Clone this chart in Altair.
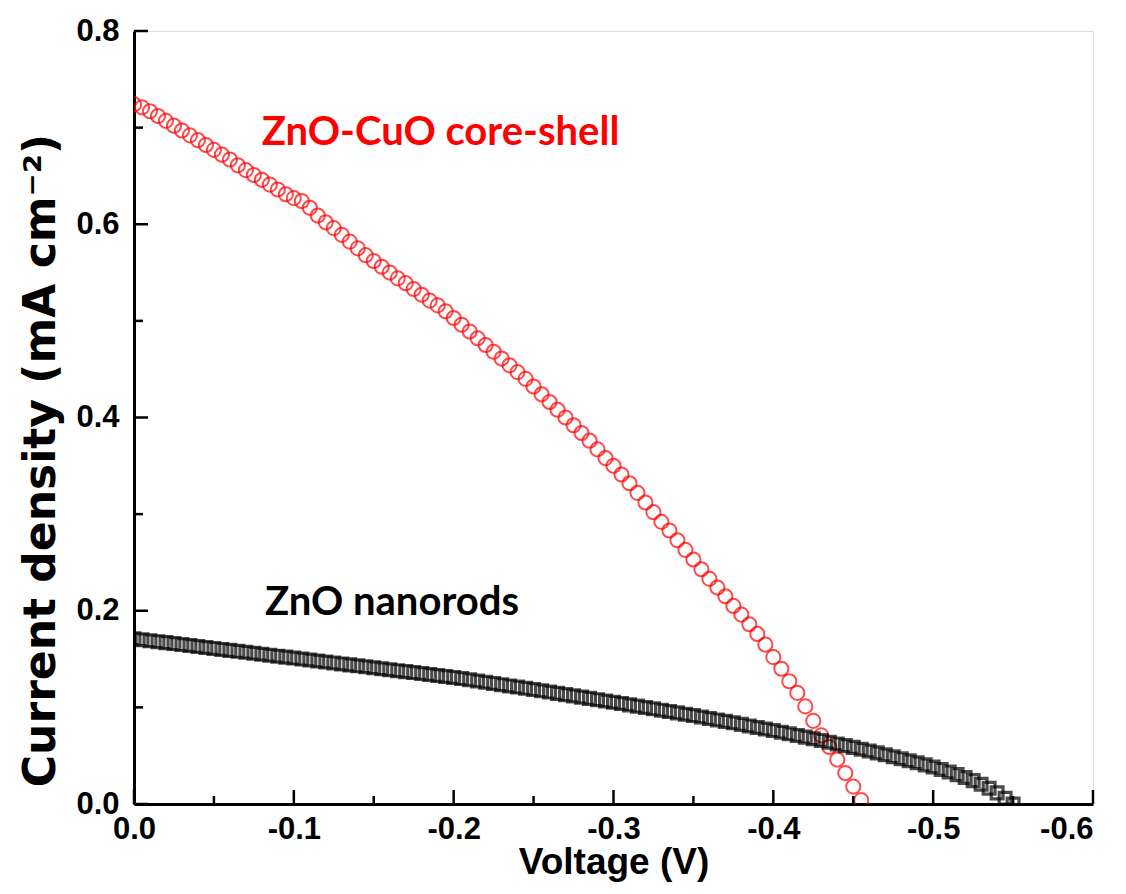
import altair as alt
import pandas as pd

# ---------------- data ----------------
red_v = [0.000, -0.005, -0.010, -0.015, -0.020, -0.025, -0.030, -0.035, -0.040, -0.045,
         -0.050, -0.055, -0.060, -0.065, -0.070, -0.075, -0.080, -0.085, -0.090, -0.095,
         -0.100, -0.105, -0.110, -0.115, -0.120, -0.125, -0.130, -0.135, -0.140, -0.145,
         -0.150, -0.155, -0.160, -0.165, -0.170, -0.175, -0.180, -0.185, -0.190, -0.195,
         -0.200, -0.205, -0.210, -0.215, -0.220, -0.225, -0.230, -0.235, -0.240, -0.245,
         -0.250, -0.255, -0.260, -0.265, -0.270, -0.275, -0.280, -0.285, -0.290, -0.295,
         -0.300, -0.305, -0.310, -0.315, -0.320, -0.325, -0.330, -0.335, -0.340, -0.345,
         -0.350, -0.355, -0.360, -0.365, -0.370, -0.375, -0.380, -0.385, -0.390, -0.395,
         -0.400, -0.405, -0.410, -0.415, -0.420, -0.425, -0.430, -0.435, -0.440, -0.445,
         -0.450, -0.455]
red_j = [0.724, 0.721, 0.717, 0.712, 0.707, 0.702, 0.697, 0.692, 0.687, 0.682,
         0.677, 0.672, 0.667, 0.661, 0.656, 0.651, 0.646, 0.641, 0.636, 0.631,
         0.627, 0.624, 0.617, 0.609, 0.602, 0.596, 0.589, 0.582, 0.575, 0.568,
         0.562, 0.556, 0.550, 0.544, 0.539, 0.533, 0.527, 0.521, 0.516, 0.510,
         0.503, 0.496, 0.489, 0.482, 0.475, 0.468, 0.461, 0.454, 0.447, 0.440,
         0.432, 0.424, 0.416, 0.408, 0.400, 0.392, 0.384, 0.376, 0.367, 0.358,
         0.350, 0.341, 0.332, 0.322, 0.312, 0.302, 0.292, 0.283, 0.273, 0.263,
         0.253, 0.243, 0.233, 0.224, 0.215, 0.205, 0.196, 0.186, 0.176, 0.165,
         0.152, 0.140, 0.127, 0.115, 0.101, 0.086, 0.071, 0.059, 0.046, 0.032,
         0.018, 0.004]

black_v = [0.000, -0.005, -0.010, -0.015, -0.020, -0.025, -0.030, -0.035, -0.040, -0.045,
           -0.050, -0.055, -0.060, -0.065, -0.070, -0.075, -0.080, -0.085, -0.090, -0.095,
           -0.100, -0.105, -0.110, -0.115, -0.120, -0.125, -0.130, -0.135, -0.140, -0.145,
           -0.150, -0.155, -0.160, -0.165, -0.170, -0.175, -0.180, -0.185, -0.190, -0.195,
           -0.200, -0.205, -0.210, -0.215, -0.220, -0.225, -0.230, -0.235, -0.240, -0.245,
           -0.250, -0.255, -0.260, -0.265, -0.270, -0.275, -0.280, -0.285, -0.290, -0.295,
           -0.300, -0.305, -0.310, -0.315, -0.320, -0.325, -0.330, -0.335, -0.340, -0.345,
           -0.350, -0.355, -0.360, -0.365, -0.370, -0.375, -0.380, -0.385, -0.390, -0.395,
           -0.400, -0.405, -0.410, -0.415, -0.420, -0.425, -0.430, -0.435, -0.440, -0.445,
           -0.450, -0.455, -0.460, -0.465, -0.470, -0.475, -0.480, -0.485, -0.490, -0.495,
           -0.500, -0.505, -0.510, -0.515, -0.520, -0.525, -0.530, -0.535, -0.540, -0.545,
           -0.550]
black_j = [0.1710, 0.1700, 0.1690, 0.1680, 0.1670, 0.1660, 0.1650, 0.1640, 0.1630, 0.1620,
           0.1610, 0.1600, 0.1590, 0.1580, 0.1570, 0.1560, 0.1550, 0.1540, 0.1530, 0.1520,
           0.1510, 0.1500, 0.1490, 0.1480, 0.1470, 0.1460, 0.1450, 0.1440, 0.1430, 0.1420,
           0.1410, 0.1400, 0.1390, 0.1380, 0.1370, 0.1360, 0.1350, 0.1340, 0.1330, 0.1320,
           0.1310, 0.1298, 0.1285, 0.1273, 0.1260, 0.1248, 0.1235, 0.1222, 0.1210, 0.1197,
           0.1184, 0.1171, 0.1158, 0.1145, 0.1132, 0.1119, 0.1106, 0.1093, 0.1080, 0.1066,
           0.1053, 0.1040, 0.1026, 0.1013, 0.0999, 0.0985, 0.0971, 0.0957, 0.0943, 0.0929,
           0.0915, 0.0900, 0.0885, 0.0870, 0.0855, 0.0840, 0.0824, 0.0808, 0.0792, 0.0776,
           0.0760, 0.0743, 0.0726, 0.0709, 0.0692, 0.0675, 0.0658, 0.0640, 0.0622, 0.0604,
           0.0586, 0.0567, 0.0548, 0.0529, 0.0509, 0.0489, 0.0469, 0.0448, 0.0427, 0.0405,
           0.0383, 0.0358, 0.0332, 0.0304, 0.0274, 0.0242, 0.0205, 0.0163, 0.0115, 0.0060,
           0.0000]

x_major = [0.0, -0.1, -0.2, -0.3, -0.4, -0.5, -0.6]
x_minor = [-0.05, -0.15, -0.25, -0.35, -0.45, -0.55]
y_major = [0.0, 0.2, 0.4, 0.6, 0.8]
y_minor = [0.1, 0.3, 0.5, 0.7]

label_text = ["ZnO-CuO core-shell", "ZnO nanorods"]
label_x = [-0.080, -0.082]
label_y = [0.682, 0.196]
label_color = ["#ff0000", "#000000"]

# ---------------- chart ----------------
W, H = 959, 773
AX = "Liberation Sans"
LBL = "(datum.value < 0 ? '-' : '') + format(abs(datum.value), '.1f')"

xs = alt.Scale(domain=[-0.6, 0.0], reverse=True, nice=False, zero=False)
ys = alt.Scale(domain=[0.0, 0.8], nice=False, zero=False)

red_df = pd.DataFrame({"V": red_v, "J": red_j})
black_df = pd.DataFrame({"V": black_v, "J": black_j})

xaxis = alt.Axis(values=x_major, labelExpr=LBL, title="Voltage (V)", grid=False,
                 ticks=False, domainColor="black", domainWidth=3,
                 labelFont=AX, labelFontSize=31, labelFontWeight="bold", labelColor="black",
                 labelPadding=10, labelOverlap=False, labelFlush=False,
                 labelAlign=alt.ExprRef(expr="datum.value <= -0.59 ? 'right' : 'center'"),
                 titleFont=AX, titleFontSize=37, titleFontWeight="bold", titleColor="black",
                 titlePadding=0)
yaxis = alt.Axis(values=y_major, labelExpr=LBL, title="Current density (mA cm\u207b\u00b2)",
                 grid=False, ticks=False, domainColor="black", domainWidth=3,
                 labelFont=AX, labelFontSize=31, labelFontWeight="bold", labelColor="black",
                 labelPadding=15, labelOverlap=False, labelFlush=False,
                 titleFont="DejaVu Sans", titleFontSize=44, titleFontWeight="bold",
                 titleColor="black", titlePadding=12, titleY=429, titleAlign="center")

red = alt.Chart(red_df).mark_point(shape="circle", filled=False, size=200,
                                   strokeWidth=2, color="#ff0000", clip=True).encode(
    x=alt.X("V:Q", scale=xs, axis=xaxis),
    y=alt.Y("J:Q", scale=ys, axis=yaxis),
)
black = alt.Chart(black_df).mark_point(shape="square", filled=False, size=140,
                                       strokeWidth=3.2, color="#000000", clip=True).encode(
    x=alt.X("V:Q", scale=xs),
    y=alt.Y("J:Q", scale=ys),
)

xmaj = alt.Chart(pd.DataFrame({"v": x_major})).mark_rule(color="black", strokeWidth=2.5).encode(
    x=alt.X("v:Q", scale=xs), y=alt.value(H), y2=alt.value(H - 14))
xmin = alt.Chart(pd.DataFrame({"v": x_minor})).mark_rule(color="black", strokeWidth=2.5).encode(
    x=alt.X("v:Q", scale=xs), y=alt.value(H), y2=alt.value(H - 8))
ymaj = alt.Chart(pd.DataFrame({"v": y_major})).mark_rule(color="black", strokeWidth=2.5).encode(
    y=alt.Y("v:Q", scale=ys), x=alt.value(0), x2=alt.value(14))
ymin = alt.Chart(pd.DataFrame({"v": y_minor})).mark_rule(color="black", strokeWidth=2.5).encode(
    y=alt.Y("v:Q", scale=ys), x=alt.value(0), x2=alt.value(9))

labels = alt.Chart(pd.DataFrame({"t": label_text, "x": label_x, "y": label_y, "c": label_color})).mark_text(
    align="left", baseline="alphabetic", font="Lato", fontWeight="bold", fontSize=40).encode(
    x=alt.X("x:Q", scale=xs), y=alt.Y("y:Q", scale=ys), text="t:N",
    color=alt.Color("c:N", scale=None))

chart = alt.layer(red, black, xmaj, xmin, ymaj, ymin, labels).properties(
    width=W, height=H,
    autosize=alt.AutoSizeParams(type="none"),
    padding={"left": 126, "top": 23, "right": 25, "bottom": 82},
).configure_view(stroke="black", strokeWidth=3).configure(background="white")

chart.save("out.html", embed_options={"renderer": "svg", "actions": False})
